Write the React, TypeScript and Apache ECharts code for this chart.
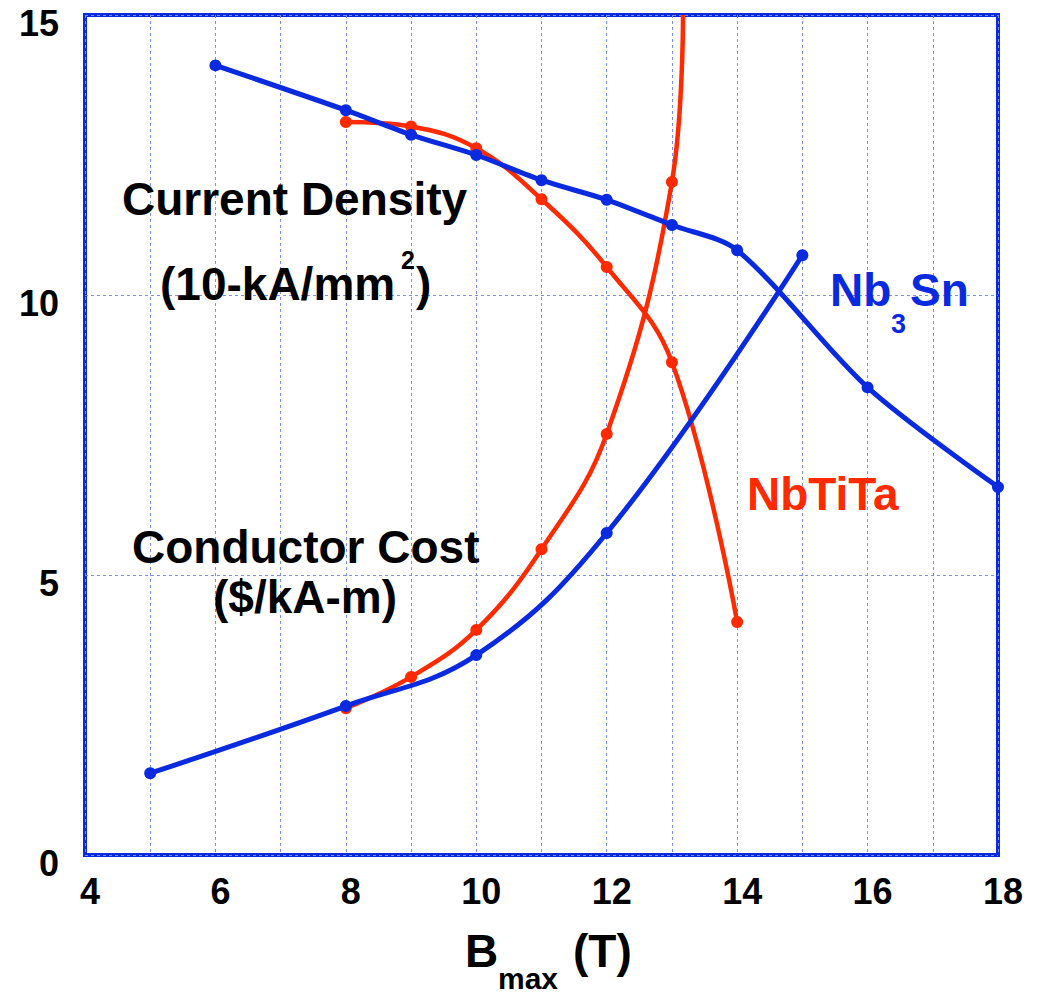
import React, { useEffect, useRef } from "react";
import * as echarts from "echarts";

// ---- Data ----
// Current density (units of 10 kA/mm^2)
const bNb3SnJ = [6, 8, 9, 10, 11, 12, 13, 14, 16, 18];
const jNb3Sn = [14.1, 13.3, 12.86, 12.5, 12.05, 11.7, 11.25, 10.8, 8.35, 6.57];
const bNbTiTaJ = [8, 9, 10, 11, 12, 13, 14];
const jNbTiTa = [13.09, 13.01, 12.62, 11.71, 10.5, 8.8, 4.16];
// Conductor cost ($/kA-m)
const bNb3SnCost = [5, 8, 10, 12, 15];
const costNb3Sn = [1.46, 2.66, 3.57, 5.75, 10.71];
const bNbTiTaCost = [8, 9, 10, 11, 12, 13];
const costNbTiTa = [2.62, 3.18, 4.02, 5.46, 7.52, 12.02];
// the NbTiTa cost curve continues up to the frame top (no marker there)
const nbTiTaCostCurveEnd = [13.17, 15];

const xTicks = [4, 6, 8, 10, 12, 14, 16, 18];
const yTicks = [0, 5, 10, 15];

const BLUE = "#0a2ae0";
const RED = "#ff2a00";
const GRID = "#7b8ef2";
const FONT = '"Liberation Sans", Arial, Helvetica, sans-serif';

const zip = (xs: number[], ys: number[]) => xs.map((x, i) => [x, ys[i]]);

const txt = (text: string, x: number, y: number, size: number, color: string) => ({
  type: "text",
  x,
  y,
  z: 100,
  style: {
    text,
    fill: color,
    fontSize: size,
    fontWeight: "bold",
    fontFamily: FONT,
    align: "left",
    verticalAlign: "middle",
    textAlign: "left",
    textVerticalAlign: "middle",
  },
});

export default function App() {
  const ref = useRef<HTMLDivElement>(null);
  useEffect(() => {
    document.body.style.margin = "0";
    const chart = echarts.init(ref.current!, null, { renderer: "svg" });
    const lineSeries = (
      data: any[],
      color: string,
      width: number,
      size: number,
      z: number,
      smooth = 0.4
    ) => ({
      type: "line",
      data,
      smooth,
      symbol: "circle",
      symbolSize: size,
      showSymbol: true,
      lineStyle: { color, width },
      itemStyle: { color },
      z,
      clip: true,
    });
    chart.setOption({
      animation: false,
      backgroundColor: "#ffffff",
      grid: {
        left: 85,
        right: 42,
        top: 15,
        bottom: 142,
        show: true,
        borderColor: BLUE,
        borderWidth: 4,
        backgroundColor: "transparent",
      },
      xAxis: {
        type: "value",
        min: 4,
        max: 18,
        interval: 1,
        axisLine: { show: false },
        axisTick: { show: false },
        axisLabel: {
          formatter: (v: number) => (xTicks.includes(v) ? String(v) : ""),
          fontSize: 36,
          fontWeight: "bold",
          fontFamily: FONT,
          color: "#000",
          margin: 18,
          padding: [0, 0, 0, 10],
        },
        splitLine: { show: true, lineStyle: { color: GRID, width: 1, type: [3, 3] } },
      },
      yAxis: {
        type: "value",
        min: 0,
        max: 15,
        interval: 5,
        axisLine: { show: false },
        axisTick: { show: false },
        axisLabel: {
          formatter: (v: number) => (yTicks.includes(v) ? String(v) : ""),
          fontSize: 36,
          fontWeight: "bold",
          fontFamily: FONT,
          color: "#000",
          margin: 26,
          verticalAlign: "top",
          lineHeight: 17,
        },
        splitLine: { show: true, lineStyle: { color: GRID, width: 1, type: [3, 3] } },
      },
      series: [
        lineSeries(zip(bNbTiTaJ, jNbTiTa), RED, 4.5, 12, 2),
        lineSeries(
          [...zip(bNbTiTaCost, costNbTiTa), { value: nbTiTaCostCurveEnd, symbol: "none" }],
          RED,
          4.5,
          12,
          2
        ),
        lineSeries(zip(bNb3SnJ, jNb3Sn), BLUE, 5, 12, 3, 0.3),
        lineSeries(zip(bNb3SnCost, costNb3Sn), BLUE, 5, 12, 3),
      ],
      graphic: [
        txt("Current Density", 122, 199, 46, "#000"),
        txt("(10-kA/mm", 160, 284, 46, "#000"),
        txt("2", 401, 260, 25, "#000"),
        txt(")", 416, 284, 46, "#000"),
        txt("Conductor Cost", 132, 547, 46, "#000"),
        txt("($/kA-m)", 213, 597, 46, "#000"),
        txt("Nb", 830, 290, 46, BLUE),
        txt("3", 891, 324, 27, BLUE),
        txt("Sn", 910, 290, 46, BLUE),
        txt("NbTiTa", 747, 494, 46, RED),
        txt("B", 465, 951, 46, "#000"),
        txt("max", 498, 978, 30, "#000"),
        txt("(T)", 573, 951, 46, "#000"),
      ],
    });
    return () => chart.dispose();
  }, []);
  return <div ref={ref} style={{ width: 1040, height: 997 }} />;
}
